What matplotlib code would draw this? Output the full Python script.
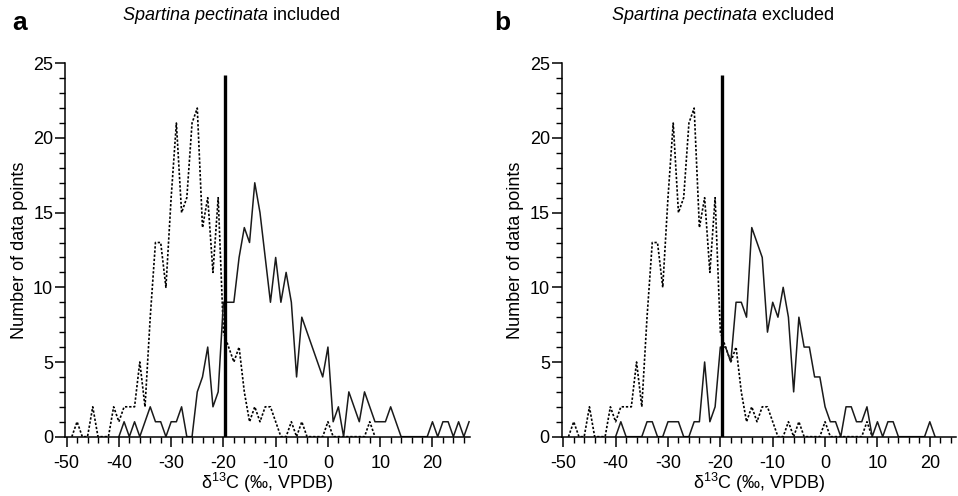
import matplotlib
matplotlib.use("Agg")
import matplotlib.pyplot as plt
from matplotlib.ticker import MultipleLocator

plt.rcParams["font.family"] = ["Liberation Sans", "DejaVu Sans"]
plt.rcParams["font.size"] = 13
plt.rcParams["axes.unicode_minus"] = False
plt.rcParams["mathtext.fontset"] = "custom"
plt.rcParams["mathtext.rm"] = "Liberation Sans"
plt.rcParams["mathtext.it"] = "Liberation Sans:italic"

# d13C bins (per mil) and counts
c3_x = list(range(-49, 10))
c3_counts = [0, 1, 0, 0, 2, 0, 0, 0, 2, 1,
             2, 2, 2, 5, 2, 8, 13, 13, 10, 16,
             21, 15, 16, 21, 22, 14, 16, 11, 16, 7,
             6, 5, 6, 3, 1, 2, 1, 2, 2, 1,
             0, 0, 1, 0, 1, 0, 0, 0, 0, 1,
             0, 0, 0, 0, 0, 0, 0, 1, 0]

incl_x = list(range(-40, 28))
incl_counts = [0, 1, 0, 1, 0, 1, 2, 1, 1, 0,
               1, 1, 2, 0, 0, 3, 4, 6, 2, 3,
               9, 9, 9, 12, 14, 13, 17, 15, 12, 9,
               12, 9, 11, 9, 4, 8, 7, 6, 5, 4,
               6, 1, 2, 0, 3, 2, 1, 3, 2, 1,
               1, 1, 2, 1, 0, 0, 0, 0, 0, 0,
               1, 0, 1, 1, 0, 1, 0, 1]

excl_x = list(range(-40, 22))
excl_counts = [0, 1, 0, 0, 0, 0, 1, 1, 0, 0,
               1, 1, 1, 0, 0, 1, 1, 5, 1, 2,
               6, 6, 5, 9, 9, 8, 14, 13, 12, 7,
               9, 8, 10, 8, 3, 8, 6, 6, 4, 4,
               2, 1, 1, 0, 2, 2, 1, 1, 2, 0,
               1, 0, 1, 1, 0, 0, 0, 0, 0, 0,
               1, 0]

cutoff = -19.6
cutoff_top = 24.2


def draw_panel(ax, solid_x, solid_y, xmax):
    ax.plot(c3_x, c3_counts, color="black", lw=1.2, ls=(0, (1.4, 1.1)))
    ax.plot(solid_x, solid_y, color="#1a1a1a", lw=1.1)
    ax.vlines(cutoff, 0, cutoff_top, color="black", lw=2.4)

    ax.set_ylim(0, 25)
    ax.xaxis.set_major_locator(MultipleLocator(10))
    ax.xaxis.set_minor_locator(MultipleLocator(2))
    ax.yaxis.set_major_locator(MultipleLocator(5))
    ax.yaxis.set_minor_locator(MultipleLocator(1))
    ax.spines["top"].set_visible(False)
    ax.spines["right"].set_visible(False)
    for s in ["left", "bottom"]:
        ax.spines[s].set_linewidth(1.1)
    ax.tick_params(which="major", length=7, width=1.1)
    ax.tick_params(which="minor", length=4, width=1.0)
    ax.tick_params(axis="x", which="both", pad=6)
    ax.tick_params(axis="y", which="both", pad=1.5)
    ax.set_xticks(range(-50, 30, 10))
    ax.set_xlim(-50.3, xmax)

    ax.set_xlabel(r"δ$^{13}$C (‰, VPDB)", va="center")
    ax.set_ylabel("Number of data points", va="center")


fig = plt.figure(figsize=(9.58, 4.96), dpi=100)
ax_a = fig.add_axes([0.0679, 0.1196, 0.4228, 0.7528])
ax_b = fig.add_axes([0.5863, 0.1196, 0.4116, 0.7528])

draw_panel(ax_a, incl_x, incl_counts, 27.2)
draw_panel(ax_b, excl_x, excl_counts, 25.0)

ax_a.yaxis.set_label_coords(-46 / 405, 0.5)
ax_b.yaxis.set_label_coords(-46 / 394, 0.5)
ax_a.xaxis.set_label_coords(0.5, -0.124)
ax_b.xaxis.set_label_coords(0.5, -0.124)

fig.text(0.0125, 0.9395, "a", fontsize=19, fontweight="bold", va="baseline")
fig.text(0.5157, 0.9395, "b", fontsize=19, fontweight="bold", va="baseline")
fig.text(0.2411, 0.968, r"$\it{Spartina\ pectinata}$ included",
         ha="center", va="center", fontsize=13)
fig.text(0.7537, 0.968, r"$\it{Spartina\ pectinata}$ excluded",
         ha="center", va="center", fontsize=13)

fig.savefig("out.png", dpi=100)
